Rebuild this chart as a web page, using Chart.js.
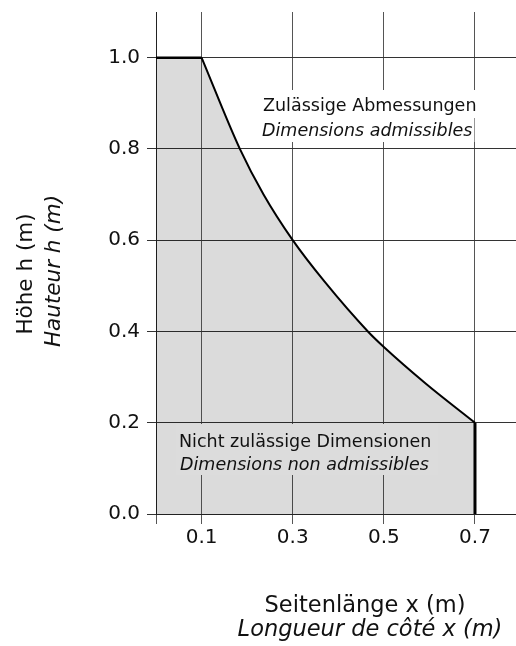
<!DOCTYPE html>
<html>
<head>
<meta charset="utf-8">
<script src="https://cdn.jsdelivr.net/npm/chart.js@4/dist/chart.umd.min.js"></script>
<style>
  html, body { margin: 0; padding: 0; background: #fff; overflow: hidden; }
  #wrap { width: 516px; height: 646px; }
</style>
</head>
<body>
<div id="wrap"><canvas id="chart" width="516" height="646"></canvas></div>
<script>
// x ticks (0 has a tick mark but no label)
const xTicks = [0, 0.1, 0.3, 0.5, 0.7];
const xTickLabels = ['', '0.1', '0.3', '0.5', '0.7'];
const yTicks = [0, 0.2, 0.4, 0.6, 0.8, 1.0];
const yTickLabels = ['0.0', '0.2', '0.4', '0.6', '0.8', '1.0'];

// upper flat edge of the forbidden area
const topEdgeX = [0, 0.1];
const topEdgeY = [1.0, 1.0];

// limit curve
const curveX = [0.1, 0.184, 0.236, 0.3, 0.37, 0.465, 0.5, 0.593, 0.7];
const curveY = [1.0, 0.8, 0.7, 0.6, 0.509, 0.4, 0.366, 0.285, 0.2];

// right vertical edge
const rightEdgeX = [0.7, 0.7];
const rightEdgeY = [0.2, 0.0];

const okLabel = ['Zulässige Abmessungen', 'Dimensions admissibles'];
const notOkLabel = ['Nicht zulässige Dimensionen', 'Dimensions non admissibles'];
const xTitle = ['Seitenlänge x (m)', 'Longueur de côté x (m)'];
const yTitle = ['Höhe h (m)', 'Hauteur h (m)'];

const pts = (xs, ys) => xs.map((x, i) => ({ x, y: ys[i] }));
const FILL = 'rgba(0,0,0,0.14)';
const FONT = '"DejaVu Sans", sans-serif';

// draw a text line with a background box that hides the grid
function boxedText(ctx, text, x, y, font, bg, padX, boxTop, boxBottom) {
  ctx.font = font;
  const w = ctx.measureText(text).width;
  ctx.fillStyle = bg;
  ctx.fillRect(x - padX, boxTop, w + padX * 2, boxBottom - boxTop);
  ctx.fillStyle = '#111';
  ctx.fillText(text, x, y);
}

const labelsPlugin = {
  id: 'labels',
  afterDatasetsDraw(chart) {
    const ctx = chart.ctx;
    ctx.save();
    ctx.textAlign = 'left';
    ctx.textBaseline = 'alphabetic';
    // allowed region (white boxes)
    boxedText(ctx, okLabel[0], 263, 111, '17.5px ' + FONT, '#fff', 3, 90, 118);
    boxedText(ctx, okLabel[1], 262, 136, 'italic 17.5px ' + FONT, '#fff', 2, 117, 142);
    // forbidden region (grey box over the grid)
    ctx.fillStyle = '#dcdcdc';
    ctx.fillRect(176, 424, 262, 51);
    ctx.fillStyle = '#111';
    ctx.font = '17.5px ' + FONT;
    ctx.fillText(notOkLabel[0], 179, 447);
    ctx.font = 'italic 17.5px ' + FONT;
    ctx.fillText(notOkLabel[1], 180, 470);
    ctx.restore();
  },
  afterDraw(chart) {
    const ctx = chart.ctx;
    ctx.save();
    ctx.fillStyle = '#111';
    ctx.textAlign = 'center';
    ctx.textBaseline = 'alphabetic';
    ctx.font = '22.5px ' + FONT;
    ctx.fillText(xTitle[0], 365, 612);
    ctx.font = 'italic 22.5px ' + FONT;
    ctx.fillText(xTitle[1], 370, 636);

    ctx.translate(32, 274);
    ctx.rotate(-Math.PI / 2);
    ctx.font = '21.5px ' + FONT;
    ctx.fillText(yTitle[0], 0, 0);
    ctx.rotate(Math.PI / 2);
    ctx.translate(28, -3);
    ctx.rotate(-Math.PI / 2);
    ctx.font = 'italic 21.5px ' + FONT;
    ctx.fillText(yTitle[1], 0, 0);
    ctx.restore();
  }
};

new Chart(document.getElementById('chart'), {
  type: 'scatter',
  data: {
    datasets: [
      {
        data: pts(topEdgeX, topEdgeY),
        showLine: true,
        borderColor: '#000',
        borderWidth: 2.5,
        backgroundColor: FILL,
        fill: 'origin',
        pointRadius: 0
      },
      {
        data: pts(curveX, curveY),
        showLine: true,
        borderColor: '#000',
        borderWidth: 2,
        backgroundColor: FILL,
        fill: 'origin',
        cubicInterpolationMode: 'monotone',
        pointRadius: 0
      },
      {
        data: pts(rightEdgeX, rightEdgeY),
        showLine: true,
        borderColor: '#000',
        borderWidth: 3,
        fill: false,
        pointRadius: 0
      }
    ]
  },
  options: {
    responsive: false,
    animation: false,
    layout: { padding: { top: 12, right: 0, left: 0, bottom: 0 } },
    plugins: {
      legend: { display: false },
      tooltip: { enabled: false }
    },
    scales: {
      x: {
        type: 'linear',
        min: 0,
        max: 0.79,
        afterBuildTicks: s => { s.ticks = xTicks.map(v => ({ value: v })); },
        afterFit: s => { s.height = 132; s.paddingLeft = 0; s.paddingRight = 0; },
        ticks: {
          color: '#111',
          font: { family: FONT, size: 20 },
          padding: 2,
          maxRotation: 0,
          autoSkip: false,
          callback: (v) => xTickLabels[xTicks.indexOf(v)] ?? ''
        },
        grid: { color: '#555', lineWidth: 1, tickLength: 10 },
        border: { color: '#222', width: 1 }
      },
      y: {
        min: 0,
        max: 1.1,
        afterBuildTicks: s => { s.ticks = yTicks.map(v => ({ value: v })); },
        afterFit: s => { s.width = 156; s.paddingTop = 0; s.paddingBottom = 0; },
        ticks: {
          color: '#111',
          font: { family: FONT, size: 20 },
          padding: 7,
          autoSkip: false,
          callback: (v) => yTickLabels[yTicks.indexOf(v)] ?? ''
        },
        grid: { color: '#333', lineWidth: 1, tickLength: 9 },
        border: { color: '#222', width: 1 }
      }
    }
  },
  plugins: [labelsPlugin]
});
</script>
</body>
</html>
